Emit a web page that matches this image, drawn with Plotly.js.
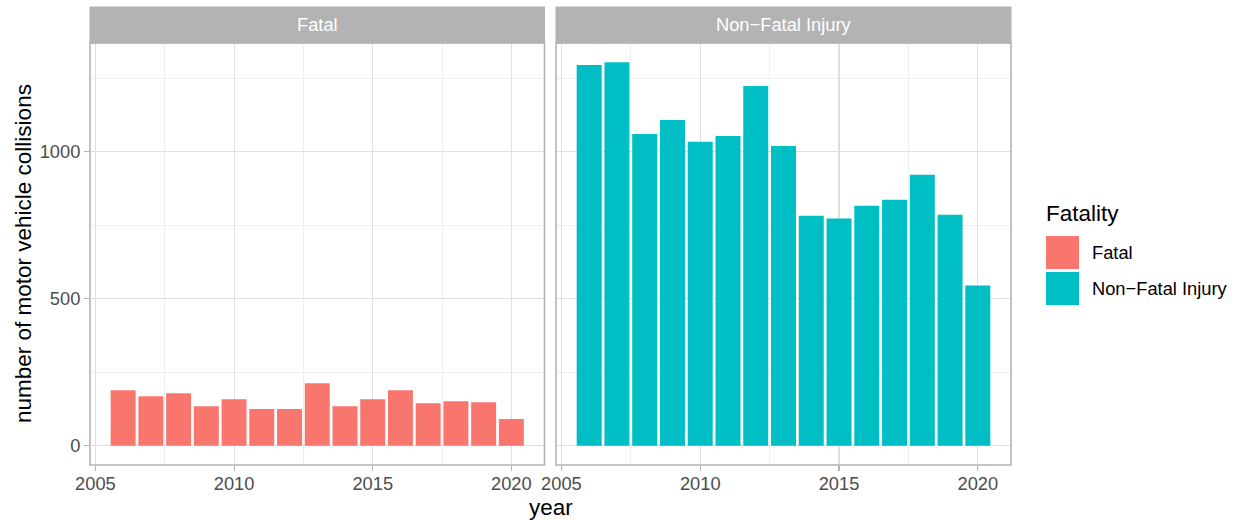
<!DOCTYPE html>
<html>
<head>
<meta charset="utf-8">
<script src="https://cdn.plot.ly/plotly-3.0.1.min.js"></script>
<style>html,body{margin:0;padding:0;background:#fff;}#chart{width:1238px;height:520px;}</style>
</head>
<body>
<div id="chart"></div>
<script>
var years = [2006,2007,2008,2009,2010,2011,2012,2013,2014,2015,2016,2017,2018,2019,2020];
var fatal = [189,169,179,135,158,125,125,213,135,158,189,145,152,148,91];
var nonFatal = [1295,1305,1061,1108,1034,1054,1224,1020,783,773,817,837,922,786,545];
var panelLabels = ["Fatal", "Non\u2212Fatal Injury"];
var legendTitle = "Fatality";
var xTitle = "year";
var yTitle = "number of motor vehicle collisions";
var colors = ["#F8766D", "#00BFC4"];

var W = 1238, H = 520;
var mL = 90, mR = 227, mT = 43, mB = 55;
var pw = W - mL - mR, ph = H - mT - mB;
function px(x){ return (x - mL) / pw; }
function py(y){ return (H - mB - y) / ph; }

var font = "Liberation Sans, Arial, Helvetica, sans-serif";
var gridC = "#e0e0e0", minorC = "#ebebeb", borderC = "#b3b3b3";
var tickSize = 18.3, titleSize = 22.5;

var traces = [
  {type:"bar", x:years, y:fatal, width:0.9, marker:{color:colors[0]}, xaxis:"x", yaxis:"y", showlegend:false, hoverinfo:"x+y"},
  {type:"bar", x:years, y:nonFatal, width:0.9, marker:{color:colors[1]}, xaxis:"x2", yaxis:"y2", showlegend:false, hoverinfo:"x+y"}
];

var ymax = Math.max.apply(null, fatal.concat(nonFatal));
var yr = [-0.05*ymax, 1.05*ymax];
var xr = [2005.55 - 0.05*14.9, 2020.45 + 0.05*14.9];

function xaxisDef(domain){
  return {domain:domain, range:xr, tick0:2005, dtick:5, showgrid:true, gridcolor:gridC, gridwidth:1.1,
    minor:{tick0:2005, dtick:2.5, showgrid:true, gridcolor:minorC, gridwidth:0.8, ticks:""},
    zeroline:false, ticks:"outside", ticklen:5, tickcolor:borderC, tickwidth:1.1, ticklabelstandoff:-3,
    tickfont:{family:font, size:tickSize, color:"#4d4d4d"}, showline:false, fixedrange:true};
}
function yaxisDef(showLabels, anchor){
  return {range:yr, tick0:0, dtick:500, showgrid:true, gridcolor:gridC, gridwidth:1.1,
    minor:{tick0:0, dtick:250, showgrid:true, gridcolor:minorC, gridwidth:0.8, ticks:""},
    zeroline:false, ticks: showLabels ? "outside" : "", ticklen:5, tickcolor:borderC, tickwidth:1.1,
    showticklabels:showLabels, anchor:anchor,
    tickfont:{family:font, size:tickSize, color:"#4d4d4d"}, showline:false, fixedrange:true};
}

var d1 = [0, px(544.5)], d2 = [px(556), 1];
var stripTop = py(7);

var shapes = [];
var annotations = [];
[d1, d2].forEach(function(d, i){
  shapes.push({type:"rect", xref:"paper", yref:"paper", x0:d[0], x1:d[1], y0:1, y1:stripTop,
    fillcolor:"#b3b3b3", line:{width:1.1, color:"#b3b3b3"}, layer:"above"});
  shapes.push({type:"rect", xref:"paper", yref:"paper", x0:d[0], x1:d[1], y0:0, y1:1,
    fillcolor:"rgba(0,0,0,0)", line:{width:1.6, color:borderC}, layer:"above"});
  annotations.push({xref:"paper", yref:"paper", x:(d[0]+d[1])/2, y:(1+stripTop)/2, text:panelLabels[i],
    showarrow:false, xanchor:"center", yanchor:"middle", font:{family:font, size:tickSize, color:"#ffffff"}});
});

// axis titles
annotations.push({xref:"paper", yref:"paper", x:px(551), y:py(508), text:xTitle, showarrow:false,
  xanchor:"center", yanchor:"middle", font:{family:font, size:titleSize, color:"#000"}});
annotations.push({xref:"paper", yref:"paper", x:px(23), y:py(254), text:yTitle, showarrow:false, textangle:-90,
  xanchor:"center", yanchor:"middle", font:{family:font, size:titleSize, color:"#000"}});

// legend (drawn manually to match key size)
annotations.push({xref:"paper", yref:"paper", x:px(1044), y:py(213), text:legendTitle, showarrow:false,
  xanchor:"left", yanchor:"middle", font:{family:font, size:titleSize, color:"#000"}});
var keyTops = [236, 272];
panelLabels.forEach(function(lab, i){
  var t = keyTops[i];
  shapes.push({type:"rect", xref:"paper", yref:"paper", x0:px(1046), x1:px(1079), y0:py(t+33), y1:py(t),
    fillcolor:colors[i], line:{width:0}});
  annotations.push({xref:"paper", yref:"paper", x:px(1090), y:py(t+16.5), text:lab, showarrow:false,
    xanchor:"left", yanchor:"middle", font:{family:font, size:tickSize, color:"#000"}});
});

var layout = {
  width:W, height:H, margin:{l:mL, r:mR, t:mT, b:mB, pad:0},
  paper_bgcolor:"#ffffff", plot_bgcolor:"#ffffff",
  showlegend:false, bargap:0.1,
  xaxis:xaxisDef(d1), yaxis:yaxisDef(true, "x"),
  xaxis2:xaxisDef(d2), yaxis2:yaxisDef(false, "x2"),
  shapes:shapes, annotations:annotations,
  font:{family:font}
};
layout.yaxis2.matches = "y";

Plotly.newPlot("chart", traces, layout, {displayModeBar:false, staticPlot:true});
</script>
</body>
</html>
